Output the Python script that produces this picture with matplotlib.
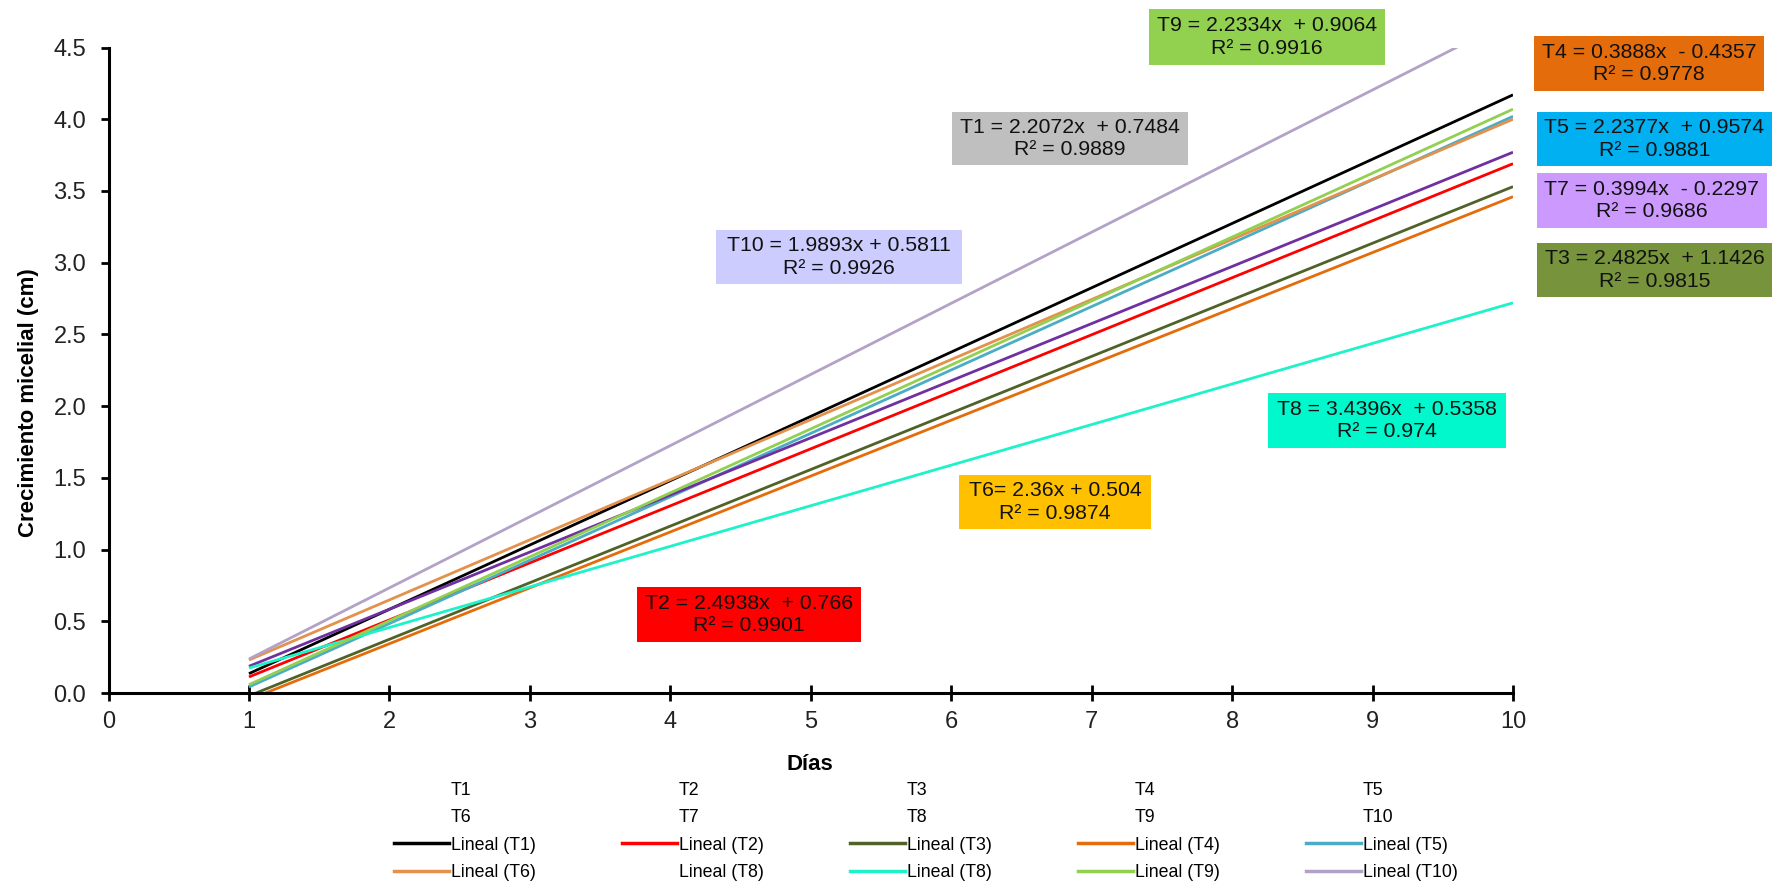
"""Crecimiento micelial: linear trend lines per treatment (T1-T10)."""
import matplotlib

matplotlib.use("Agg")
import matplotlib.pyplot as plt
from matplotlib.lines import Line2D
from matplotlib.patches import Rectangle

plt.rcParams["font.family"] = ["Liberation Sans", "DejaVu Sans"]
NARROW = ["Liberation Sans Narrow", "Liberation Sans", "DejaVu Sans"]

# Trend lines, read at day 1 and day 10
treatments = ["T1", "T2", "T3", "T4", "T5", "T6", "T7", "T8", "T9", "T10"]
days = [1, 10]
start_vals = [0.135, 0.112, -0.02, -0.046, 0.042, 0.23, 0.186, 0.174, 0.058, 0.237]
end_vals = [4.17, 3.69, 3.53, 3.46, 4.02, 4.00, 3.77, 2.72, 4.07, 4.70]
line_colors = ["#000000", "#FF0000", "#4F6228", "#E46C0A", "#4BACC6",
               "#E3914B", "#7030A0", "#1EF2C8", "#92D050", "#B3A2C7"]

# Equation boxes
eq_text = {
    "T1": "T1 = 2.2072x  + 0.7484\nR² = 0.9889",
    "T2": "T2 = 2.4938x  + 0.766\nR² = 0.9901",
    "T3": "T3 = 2.4825x  + 1.1426\nR² = 0.9815",
    "T4": "T4 = 0.3888x  - 0.4357\nR² = 0.9778",
    "T5": "T5 = 2.2377x  + 0.9574\nR² = 0.9881",
    "T6": "T6= 2.36x + 0.504\nR² = 0.9874",
    "T7": "T7 = 0.3994x  - 0.2297\nR² = 0.9686",
    "T8": "T8 = 3.4396x  + 0.5358\nR² = 0.974",
    "T9": "T9 = 2.2334x  + 0.9064\nR² = 0.9916",
    "T10": "T10 = 1.9893x + 0.5811\nR² = 0.9926",
}
box_colors = {"T1": "#BFBFBF", "T2": "#FF0000", "T3": "#77933C", "T4": "#E46C0A",
              "T5": "#00B0F0", "T6": "#FFC000", "T7": "#CC99FF", "T8": "#00F8CC",
              "T9": "#92D050", "T10": "#CCCCFF"}
# box extents in pixels (x0, x1, y0_top, y1_bottom) of the 1773x886 canvas
box_px = {"T1": (952, 1188, 112, 165), "T2": (637, 861, 587, 642),
          "T3": (1537, 1772, 243, 297), "T4": (1534, 1764, 36, 91),
          "T5": (1537, 1772, 112, 166), "T6": (959, 1151, 475, 529),
          "T7": (1537, 1767, 173, 228), "T8": (1268, 1506, 393, 448),
          "T9": (1149, 1385, 9, 65), "T10": (716, 962, 230, 284)}

W, H = 1773, 886
fig = plt.figure(figsize=(W / 100, H / 100), dpi=100)
ax = fig.add_axes([108.5 / W, 1 - 693 / H, 1404.5 / W, 645.5 / H])

for t, y0, y1, c in zip(treatments, start_vals, end_vals, line_colors):
    ax.plot(days, [y0, y1], color=c, linewidth=2.0, solid_capstyle="butt")

ax.set_xlim(0, 10)
ax.set_ylim(0, 4.5)
ax.set_xticks(range(0, 11))
ax.set_yticks([i * 0.5 for i in range(10)])
ax.set_yticklabels([f"{i * 0.5:.1f}" for i in range(10)])
for s in ("top", "right"):
    ax.spines[s].set_visible(False)
for s in ("left", "bottom"):
    ax.spines[s].set_linewidth(2.2)
ax.tick_params(axis="y", direction="out", length=6, width=2, labelsize=17,
               labelcolor="#222222", pad=10)
ax.tick_params(axis="x", direction="inout", length=12, width=2, labelsize=17,
               labelcolor="#222222", pad=7)

ax.set_xlabel("Días", fontsize=16, fontweight="bold", family=NARROW)
ax.xaxis.set_label_coords(0.4995, -0.095)
ax.set_ylabel("Crecimiento micelial (cm)", fontsize=16, fontweight="bold", family=NARROW)
ax.yaxis.set_label_coords(-0.0495, 0.45)

# equation labels
for t in treatments:
    x0, x1, yt, yb = box_px[t]
    fig.patches.append(Rectangle((x0 / W, 1 - yb / H), (x1 - x0) / W, (yb - yt) / H,
                                 transform=fig.transFigure, facecolor=box_colors[t],
                                 edgecolor="none", zorder=5))
    fig.text((x0 + x1) / 2 / W, 1 - (yt + yb) / 2 / H, eq_text[t], ha="center",
             va="center", fontsize=15.3, color="#111111", linespacing=1.22, zorder=6)

# legend, column-major so it reads row by row
empty = Line2D([], [], linestyle="none")
handles, labels = [], []
for j in range(5):
    a, b = j, j + 5
    lin_a = Line2D([], [], color=line_colors[a], linewidth=2.5)
    if treatments[b] == "T7":
        lin_b, lab_b = empty, "Lineal (T8)"
    else:
        lin_b = Line2D([], [], color=line_colors[b], linewidth=2.5)
        lab_b = f"Lineal ({treatments[b]})"
    handles += [empty, empty, lin_a, lin_b]
    labels += [treatments[a], treatments[b], f"Lineal ({treatments[a]})", lab_b]

leg = fig.legend(handles, labels, ncol=5, loc="upper left",
                 bbox_to_anchor=(378 / W, 1 - 766 / H), frameon=False,
                 prop={"family": NARROW, "size": 12.8}, handlelength=3.1,
                 handletextpad=0.1, columnspacing=4.85, labelspacing=0.58)

fig.savefig("out.png", dpi=100)
